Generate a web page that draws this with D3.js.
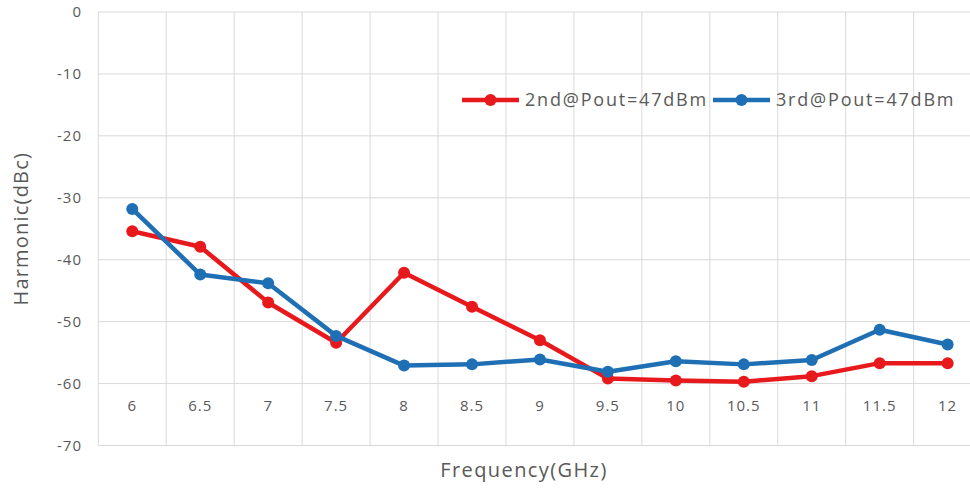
<!DOCTYPE html>
<html>
<head>
<meta charset="utf-8">
<script src="https://cdn.jsdelivr.net/npm/d3@7"></script>
<style>
  body { margin: 0; background: #fff; }
  svg text { font-family: "Open Sans", sans-serif; fill: #595959; }
</style>
</head>
<body>
<svg id="chart" width="970" height="492"></svg>
<script>
// frequency categories (GHz)
const freqs = ['6', '6.5', '7', '7.5', '8', '8.5', '9', '9.5', '10', '10.5', '11', '11.5', '12'];
// harmonic levels in dBc
const second = [-35.4, -37.9, -46.9, -53.4, -42.1, -47.6, -53.0, -59.2, -59.5, -59.7, -58.8, -56.7, -56.7];
const third = [-31.8, -42.4, -43.8, -52.3, -57.1, -56.9, -56.1, -58.1, -56.4, -56.9, -56.2, -51.3, -53.7];
const yTicks = [0, -10, -20, -30, -40, -50, -60, -70];

const series = [
    { name: '2nd@Pout=47dBm', values: second, color: '#e8191c' },
    { name: '3rd@Pout=47dBm', values: third, color: '#1f6fb5' }
];

const svg = d3.select('#chart');

// plot runs past the right edge, like the cropped original
const x = d3.scaleBand().domain(freqs).range([98.3, 981.6]);
const y = d3.scaleLinear().domain([0, -70]).range([12, 445.5]);

// horizontal grid
svg.append('g').selectAll('line').data(yTicks).enter().append('line')
    .attr('x1', x.range()[0]).attr('x2', x.range()[1])
    .attr('y1', d => y(d)).attr('y2', d => y(d))
    .attr('stroke', '#d9d9d9').attr('stroke-width', 1);

// vertical grid on band edges
let edges = freqs.map(d => x(d)).concat([x.range()[1]]);
svg.append('g').selectAll('line').data(edges).enter().append('line')
    .attr('x1', d => d).attr('x2', d => d)
    .attr('y1', y(0)).attr('y2', y(-70))
    .attr('stroke', '#d9d9d9').attr('stroke-width', 1);

// y tick labels
svg.append('g').selectAll('text').data(yTicks).enter().append('text')
    .attr('x', 82).attr('y', d => y(d))
    .attr('dy', '0.35em')
    .attr('text-anchor', 'end')
    .style('font-size', '15px')
    .style('letter-spacing', '1px')
    .text(d => d);

// x tick labels sit between -60 and -70
svg.append('g').selectAll('text').data(freqs).enter().append('text')
    .attr('x', d => x(d) + x.bandwidth() / 2)
    .attr('y', 406)
    .attr('dy', '0.35em')
    .attr('text-anchor', 'middle')
    .style('font-size', '15px')
    .style('letter-spacing', '1px')
    .text(d => d);

// lines + markers
const line = d3.line()
    .x((d, i) => x(freqs[i]) + x.bandwidth() / 2)
    .y(d => y(d));

series.forEach(s => {
    svg.append('path')
        .attr('d', line(s.values))
        .attr('fill', 'none')
        .attr('stroke', s.color)
        .attr('stroke-width', 4.5)
        .attr('stroke-linejoin', 'round');
    svg.append('g').selectAll('circle').data(s.values).enter().append('circle')
        .attr('cx', (d, i) => x(freqs[i]) + x.bandwidth() / 2)
        .attr('cy', d => y(d))
        .attr('r', 6)
        .attr('fill', s.color);
});

// legend
const legendX = [462, 713];
series.forEach((s, i) => {
    let g = svg.append('g').attr('transform', 'translate(' + legendX[i] + ',100)');
    g.append('line').attr('x1', 0).attr('x2', 57).attr('y1', 0).attr('y2', 0)
        .attr('stroke', s.color).attr('stroke-width', 4.5);
    g.append('circle').attr('cx', 28.5).attr('cy', 0).attr('r', 6).attr('fill', s.color);
    g.append('text').attr('x', 63).attr('y', 0).attr('dy', '0.35em')
        .style('font-size', '18px')
        .style('letter-spacing', '1.8px')
        .text(s.name);
});

// axis titles
svg.append('text')
    .attr('transform', 'translate(21,' + y(-35) + ') rotate(-90)')
    .attr('text-anchor', 'middle')
    .attr('dy', '0.35em')
    .style('font-size', '20px')
    .style('letter-spacing', '1.2px')
    .text('Harmonic(dBc)');

svg.append('text')
    .attr('x', 524).attr('y', 470)
    .attr('text-anchor', 'middle')
    .attr('dy', '0.35em')
    .style('font-size', '20px')
    .style('letter-spacing', '1.4px')
    .text('Frequency(GHz)');
</script>
</body>
</html>
